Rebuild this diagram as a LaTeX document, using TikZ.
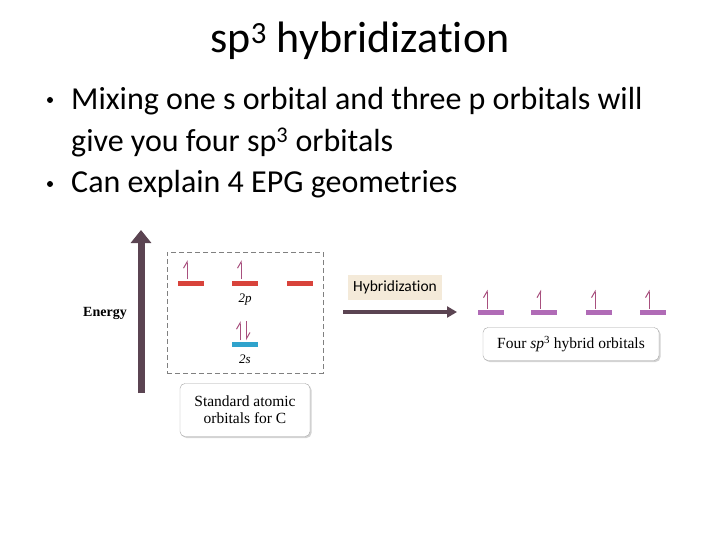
\documentclass[tikz,border=0pt]{standalone}
\usepackage{fontspec}
\setmainfont{Carlito}[Ligatures=NoCommon]
\newfontfamily\bookfont{Liberation Serif}
\usetikzlibrary{arrows.meta,positioning,shadows}

\definecolor{energyc}{HTML}{5B4452}
\definecolor{pred}{HTML}{D8433B}
\definecolor{sblue}{HTML}{2FA3CC}
\definecolor{hpurple}{HTML}{B06BB6}
\definecolor{spinc}{HTML}{A8507E}
\definecolor{tagc}{HTML}{F4EAD9}

\tikzset{
  level/.style={minimum width=26pt,minimum height=5pt,inner sep=0pt,fill=#1},
  spin/.style={spinc,line width=1pt,-{Straight Barb[left,length=6pt,width=7pt]}},
  infobox/.style={draw=gray!70,rounded corners=5pt,fill=white,
    drop shadow={opacity=0.35,shadow xshift=1.5pt,shadow yshift=-1.5pt},
    font=\bookfont\fontsize{15.5}{17}\selectfont,align=center},
  slidetext/.style={inner sep=0pt,font=\fontsize{32}{36}\selectfont},
  orblabel/.style={inner sep=0pt,font=\bookfont\itshape\fontsize{13}{15}\selectfont}
}

\begin{document}
\begin{tikzpicture}[x=1pt,y=-1pt]
			\useasboundingbox (0,0) rectangle (720,540);
			\node[inner sep=0pt,anchor=base,font=\fontsize{44}{48}\selectfont] (title) at (360,53) {sp\textsuperscript{3} hybridization};
			\node[slidetext,anchor=base west] (b1) at (71,109.5) {Mixing one s orbital and three p orbitals will};
			\node[slidetext,anchor=base west] (b1b) at (71,151.5) {give you four sp\textsuperscript{3} orbitals};
			\node[slidetext,anchor=base west] (b2) at (71,193) {Can explain 4 EPG geometries};
			\node[circle,fill=black,inner sep=0pt,minimum size=6pt] (d1) at (50,100) {};
			\node[circle,fill=black,inner sep=0pt,minimum size=6pt] (d2) at (50,184) {};
			% energy axis
			\coordinate (ebot) at (141,393);
			\coordinate (etop) at (141,230);
			\draw[energyc,line width=7pt,-{Triangle[width=20pt,length=13pt]}] (ebot) -- (etop);
			\node[inner sep=0pt,font=\bookfont\bfseries\fontsize{14}{16}\selectfont] (energy) at (105,313) {Energy};
			% atomic orbitals
			\node[draw=gray,line width=0.9pt,dash pattern=on 5pt off 3pt,minimum width=156pt,minimum height=121pt] (std) at (245,312.5) {};
			\node[level=pred] (p1) at (191,283) {};
			\node[level=pred] (p2) at (245,283) {};
			\node[level=pred] (p3) at (299.5,283) {};
			\node[level=sblue] (s1) at (245,344) {};
			\node[orblabel,below=8pt of p2] (lp) {2p};
			\node[orblabel,below=8pt of s1] (ls) {2s};
			\draw[spin] ([xshift=-4pt,yshift=1pt]p1.north) -- ++(0,-19);
			\draw[spin] ([xshift=-4pt,yshift=1pt]p2.north) -- ++(0,-19);
			\draw[spin] ([xshift=-5pt,yshift=1pt]s1.north) -- ++(0,-19);
			\draw[spin] ([xshift=1.5pt,yshift=20pt]s1.north) -- ++(0,19);
			\node[infobox,minimum width=130pt,minimum height=53pt] (stdlab) at (245,410) {Standard atomic\\orbitals for C};
			% hybridization
			\coordinate (hstart) at (343,312);
			\coordinate (hend) at (457,312);
			\draw[energyc,line width=4pt,-{Triangle[width=11pt,length=10pt]}] (hstart) -- (hend);
			\node[fill=tagc,inner sep=0pt,minimum width=94pt,minimum height=25pt,font=\fontsize{15.5}{17}\selectfont] (tag) at (395,287) {Hybridization};
			\foreach \i/\x in {1/490.5,2/544,3/598.5,4/652.5}{
				\node[level=hpurple] (h\i) at (\x,312.5) {};
				\draw[spin] ([xshift=-3.5pt,yshift=1pt]h\i.north) -- ++(0,-19);
			}
			\node[infobox,minimum width=176pt,minimum height=33pt] (hyblab) at (571,344) {Four \textit{sp}\textsuperscript{3} hybrid orbitals};
		\end{tikzpicture}
\end{document}
